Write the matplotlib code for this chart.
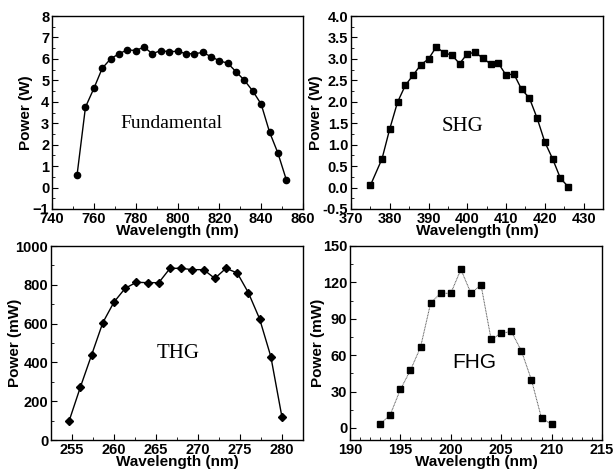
import matplotlib
matplotlib.use("Agg")
import matplotlib.pyplot as plt
from matplotlib.ticker import MultipleLocator, FormatStrFormatter

plt.rcParams["font.family"] = ["Liberation Sans", "DejaVu Sans"]
plt.rcParams["font.weight"] = "bold"

# fundamental
fund_x = [752, 756, 760, 764, 768, 772, 776, 780, 784, 788, 792, 796, 800,
          804, 808, 812, 816, 820, 824, 828, 832, 836, 840, 844, 848, 852]
fund_y = [0.6, 3.75, 4.62, 5.56, 6.0, 6.24, 6.42, 6.39, 6.55, 6.24, 6.39, 6.33, 6.36,
          6.24, 6.24, 6.3, 6.11, 5.91, 5.8, 5.4, 5.0, 4.5, 3.89, 2.59, 1.61, 0.37]

# second harmonic
shg_x = [375, 378, 380, 382, 384, 386, 388, 390, 392, 394, 396, 398, 400,
         402, 404, 406, 408, 410, 412, 414, 416, 418, 420, 422, 424, 426]
shg_y = [0.05, 0.67, 1.37, 1.99, 2.38, 2.62, 2.86, 3.0, 3.28, 3.14, 3.09, 2.89, 3.12,
         3.15, 3.02, 2.88, 2.9, 2.62, 2.65, 2.29, 2.09, 1.62, 1.06, 0.67, 0.22, 0.02]

# third harmonic
thg_x = [254.67, 256.0, 257.33, 258.67, 260.0, 261.33, 262.67, 264.0, 265.33, 266.67,
         268.0, 269.33, 270.67, 272.0, 273.33, 274.67, 276.0, 277.33, 278.67, 280.0]
thg_y = [100, 273, 438, 605, 711, 782, 813, 811, 811, 885,
         885, 878, 878, 833, 885, 861, 759, 625, 430, 117]

# fourth harmonic
fhg_x = [193, 194, 195, 196, 197, 198, 199, 200, 201, 202, 203, 204, 205, 206,
         207, 208, 209, 210]
fhg_y = [3, 11, 31.7, 47.6, 66.6, 103, 111, 111, 130.7, 111, 117.8, 73, 78, 79.5,
         63.6, 39.6, 8, 3]

fig = plt.figure(figsize=(6.15, 4.71), dpi=100)

W, H = 615, 471
def box(l, r, t, b):
    return [l / W, (H - b) / H, (r - l) / W, (b - t) / H]

ax1 = fig.add_axes(box(52, 303, 16, 209))
ax2 = fig.add_axes(box(351, 603, 16, 209))
ax3 = fig.add_axes(box(51, 303, 246, 440))
ax4 = fig.add_axes(box(350, 602, 246, 440))

ax1.plot(fund_x, fund_y, "-o", color="black", lw=1, ms=4.5)
ax1.set_xlim(740, 860)
ax1.set_ylim(-1, 8)
ax1.xaxis.set_major_locator(MultipleLocator(20))
ax1.xaxis.set_minor_locator(MultipleLocator(10))
ax1.yaxis.set_major_locator(MultipleLocator(1))
ax1.yaxis.set_minor_locator(MultipleLocator(0.5))
ax1.set_ylabel("Power (W)")
ax1.yaxis.set_label_coords(-0.076, 0.5)
ax1.text(797, 3.0, "Fundamental", family="Liberation Serif", weight="normal",
         fontsize=14, ha="center", va="center")

ax2.plot(shg_x, shg_y, "-s", color="black", lw=1, ms=4)
ax2.set_xlim(370, 435)
ax2.set_ylim(-0.5, 4.0)
ax2.xaxis.set_major_locator(MultipleLocator(10))
ax2.xaxis.set_minor_locator(MultipleLocator(5))
ax2.yaxis.set_major_locator(MultipleLocator(0.5))
ax2.yaxis.set_minor_locator(MultipleLocator(0.25))
ax2.yaxis.set_major_formatter(FormatStrFormatter("%.1f"))
ax2.set_ylabel("Power (W)")
ax2.yaxis.set_label_coords(-0.111, 0.5)
ax2.text(398.7, 1.43, "SHG", family="Liberation Serif", weight="normal",
         fontsize=15, ha="center", va="center")

ax3.plot(thg_x, thg_y, "-D", color="black", lw=1, ms=4)
ax3.set_xlim(252.5, 282.5)
ax3.set_ylim(0, 1000)
ax3.xaxis.set_major_locator(MultipleLocator(5))
ax3.xaxis.set_minor_locator(MultipleLocator(2.5))
ax3.yaxis.set_major_locator(MultipleLocator(200))
ax3.yaxis.set_minor_locator(MultipleLocator(100))
ax3.set_ylabel("Power (mW)")
ax3.yaxis.set_label_coords(-0.115, 0.5)
ax3.text(267.6, 447, "THG", family="Liberation Serif", weight="normal",
         fontsize=15, ha="center", va="center")

ax4.plot(fhg_x, fhg_y, color="#555555", linestyle=(0, (1, 0.6)), lw=0.7)
ax4.plot(fhg_x, fhg_y, "s", color="black", ms=4)
ax4.set_xlim(190, 215)
ax4.set_ylim(-10, 150)
ax4.xaxis.set_major_locator(MultipleLocator(5))
ax4.xaxis.set_minor_locator(MultipleLocator(1))
ax4.yaxis.set_major_locator(MultipleLocator(30))
ax4.yaxis.set_minor_locator(MultipleLocator(15))
ax4.set_ylabel("Power (mW)")
ax4.yaxis.set_label_coords(-0.099, 0.5)
ax4.text(202.3, 53.7, "FHG", weight="normal", fontsize=15,
         ha="center", va="center")

for ax in (ax1, ax2, ax3, ax4):
    ax.set_xlabel("Wavelength (nm)", fontsize=11, fontweight="bold", labelpad=-1)
    ax.yaxis.label.set_fontsize(11)
    ax.yaxis.label.set_fontweight("bold")
    ax.tick_params(which="both", direction="in", top=False, right=False,
                   labelsize=10.5, pad=2)
    ax.tick_params(which="major", length=4)
    ax.tick_params(which="minor", length=2.5)
    for lab in ax.get_xticklabels() + ax.get_yticklabels():
        lab.set_fontweight("bold")
    for s in ax.spines.values():
        s.set_linewidth(1)

fig.savefig("out.png", dpi=100)
